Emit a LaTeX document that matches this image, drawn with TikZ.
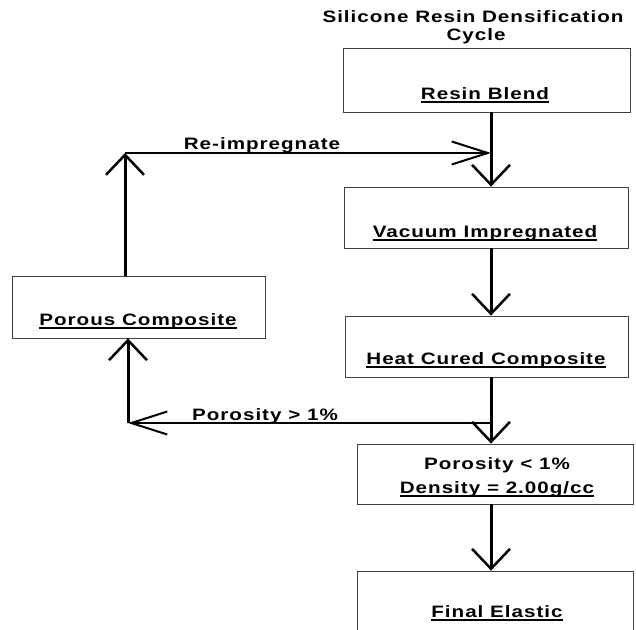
\documentclass[tikz,border=0pt]{standalone}
\usepackage{fontspec}
\setmainfont{Liberation Sans}[FakeStretch=1.25,LetterSpace=6]
\usetikzlibrary{arrows.meta}
\newcommand{\myul}[1]{\setbox0\hbox{#1}\rlap{\rule[-3.5pt]{\wd0}{1.4pt}}\box0}
\tikzset{
  box/.style={draw=black!75, line width=0.8pt, rectangle, inner sep=0pt},
  lbl/.style={anchor=base, inner sep=0pt, font=\fontsize{16.5}{19}\selectfont\bfseries},
  varrow/.style={line width=3pt, -{Straight Barb[length=20pt,width=38pt,line width=2.5pt]}},
  harrow/.style={line width=2pt, -{Straight Barb[length=36pt,width=23pt,line width=2pt]}},
}
\begin{document}
\begin{tikzpicture}[x=1pt,y=-1pt]
\useasboundingbox (0,0) rectangle (636,629);
% title
\node[lbl] (t1) at (473,22) {Silicone Resin Densification};
\node[lbl] (t2) at (476,40) {Cycle};
% boxes
\node[box, minimum width=287pt, minimum height=64pt] (resin) at (486.5,80) {};
\node[box, minimum width=284pt, minimum height=61pt] (vac) at (486,217.5) {};
\node[box, minimum width=283pt, minimum height=61pt] (heat) at (486.5,346.5) {};
\node[box, minimum width=253pt, minimum height=62pt] (porous) at (138.5,307) {};
\node[box, minimum width=276pt, minimum height=60pt] (plow) at (495,474) {};
\node[box, minimum width=276pt, minimum height=80pt] (final) at (495,611) {};
% labels
\node[lbl] (l1) at (485,99) {\myul{Resin Blend}};
\node[lbl] (l2) at (485,237) {\myul{Vacuum Impregnated}};
\node[lbl] (l3) at (486,364) {\myul{Heat Cured Composite}};
\node[lbl] (l4) at (138,325) {\myul{Porous Composite}};
\node[lbl] (l5) at (497,469) {Porosity < 1\%};
\node[lbl] (l6) at (497,493) {\myul{Density = 2.00g/cc}};
\node[lbl] (l7) at (497,617) {\myul{Final Elastic}};
\node[lbl] (r1) at (262,149) {Re-impregnate};
\node[lbl] (r2) at (265,420) {Porosity > 1\%};
% junction coordinates
\coordinate (v) at (491,0);
\coordinate (ri) at (491,153);
\coordinate (lt) at (125,153);
\coordinate (pj) at (491,423);
\coordinate (pl) at (128,423);
% connectors
\draw[varrow] (resin.south -| v) -- (vac.north -| v);
\draw[varrow] (vac.south -| v) -- (heat.north -| v);
\draw[varrow] (heat.south -| v) -- (plow.north -| v);
\draw[varrow] (plow.south -| v) -- (final.north -| v);
\draw[varrow] (porous.north -| lt) -- (lt);
\draw[harrow] (lt) -- (ri);
\draw[harrow] (pj) -- (pl);
\draw[varrow] (pl) -- (porous.south -| pl);
\end{tikzpicture}
\end{document}
